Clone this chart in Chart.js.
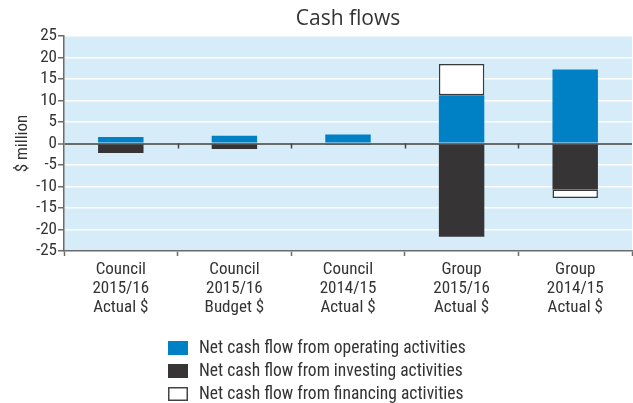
<!DOCTYPE html>
<html>
<head>
<meta charset="utf-8">
<script src="https://cdn.jsdelivr.net/npm/chart.js@4"></script>
<style>
  html, body { margin: 0; padding: 0; background: #fff; }
  #wrap { width: 633px; height: 403px; position: relative; }
</style>
</head>
<body>
<div id="wrap"><canvas id="cashChart"></canvas></div>
<script>
const categories = [
  ["Council", "2015/16", "Actual $"],
  ["Council", "2015/16", "Budget $"],
  ["Council", "2014/15", "Actual $"],
  ["Group", "2015/16", "Actual $"],
  ["Group", "2014/15", "Actual $"]
];
const operating = [1.5, 1.8, 2.1, 11.2, 17.2];
const investing = [-2.2, -1.3, -0.3, -21.7, -10.7];
const financing = [null, null, null, 7.3, -2.0];
const seriesNames = [
  "Net cash flow from operating activities",
  "Net cash flow from investing activities",
  "Net cash flow from financing activities"
];

const narrow = '"Roboto Condensed", "DejaVu Sans Condensed", sans-serif';
const axisGray = "#6b6b6b";

const chartDecor = {
  id: "chartDecor",
  beforeDraw(chart) {
    const { ctx, chartArea: a } = chart;
    ctx.save();
    ctx.fillStyle = "#d6ecf9";
    ctx.fillRect(a.left, a.top, a.right - a.left, a.bottom - a.top);
    ctx.restore();
  },
  afterDraw(chart) {
    const { ctx, chartArea: a } = chart;
    const xs = chart.scales.x, ys = chart.scales.y;
    ctx.save();
    // title
    ctx.fillStyle = "#333";
    ctx.font = '21px "Open Sans", sans-serif';
    ctx.textAlign = "center";
    ctx.textBaseline = "middle";
    ctx.fillText("Cash flows", (a.left + a.right) / 2, 19);

    // small ticks under the zero line
    const y0 = ys.getPixelForValue(0);
    const step = xs.getPixelForValue(1) - xs.getPixelForValue(0);
    ctx.strokeStyle = "#444";
    ctx.lineWidth = 1.5;
    for (let i = 1; i < categories.length; i++) {
      const x = Math.round(xs.getPixelForValue(i) - step / 2) + 0.5;
      ctx.beginPath();
      ctx.moveTo(x, y0);
      ctx.lineTo(x, y0 + 5);
      ctx.stroke();
    }

    // legend
    ctx.font = "17.5px " + narrow;
    ctx.textAlign = "left";
    const widths = seriesNames.map(n => ctx.measureText(n).width);
    const total = 20 + 11 + Math.max(...widths);
    const lx = Math.round((chart.width - total) / 2);
    chart.data.datasets.forEach((ds, i) => {
      const cy = 348 + i * 23;
      ctx.fillStyle = ds.backgroundColor;
      ctx.fillRect(lx, cy - 7, 20, 14);
      if (ds.borderWidth) {
        ctx.strokeStyle = "#444";
        ctx.lineWidth = 1.5;
        ctx.strokeRect(lx + 0.75, cy - 6.25, 18.5, 12.5);
      }
      ctx.fillStyle = "#333";
      ctx.fillText(ds.label, lx + 31, cy + 1);
    });
    ctx.restore();
  }
};

new Chart(document.getElementById("cashChart"), {
  type: "bar",
  data: {
    labels: categories,
    datasets: [
      { label: seriesNames[0], data: operating, backgroundColor: "#0080c5", borderWidth: 0 },
      { label: seriesNames[1], data: investing, backgroundColor: "#363435", borderWidth: 0 },
      { label: seriesNames[2], data: financing, backgroundColor: "#ffffff", borderColor: "#3a3a3a", borderWidth: 1.5, borderSkipped: false }
    ]
  },
  options: {
    responsive: true,
    maintainAspectRatio: false,
    animation: false,
    layout: { padding: { top: 36, right: 1, bottom: 72, left: 0 } },
    datasets: { bar: { barPercentage: 0.8, categoryPercentage: 0.5 } },
    plugins: {
      legend: { display: false },
      title: { display: false },
      tooltip: { enabled: false }
    },
    scales: {
      x: {
        stacked: true,
        afterFit: s => { s.height = 80; },
        grid: { offset: true, drawOnChartArea: false, tickLength: 5, tickColor: axisGray, tickWidth: 1.5 },
        border: { color: axisGray, width: 1.5 },
        ticks: { color: "#333", font: { family: narrow, size: 17, lineHeight: 1.12 }, padding: 4, maxRotation: 0 }
      },
      y: {
        stacked: true,
        min: -25,
        max: 25,
        afterFit: s => { s.width = 64; },
        ticks: { stepSize: 5, autoSkip: false, color: "#333", font: { family: narrow, size: 17 }, padding: 1 },
        grid: {
          color: c => c.tick && c.tick.value === 0 ? axisGray : "#ffffff",
          lineWidth: c => c.tick && c.tick.value === 0 ? 2 : 1.5,
          tickColor: axisGray,
          tickLength: 6,
          tickWidth: 1.5
        },
        border: { color: axisGray, width: 1.5 },
        title: { display: true, text: "$ million", color: "#333", font: { family: narrow, size: 17 }, padding: { top: 13, bottom: 0 } }
      }
    }
  },
  plugins: [chartDecor]
});
</script>
</body>
</html>
